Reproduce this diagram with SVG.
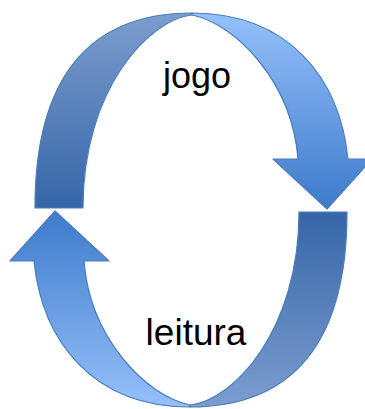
<svg xmlns="http://www.w3.org/2000/svg" width="365" height="409" viewBox="0 0 365 409">
  <defs>
    <linearGradient id="gBack" x1="0" y1="0" x2="0" y2="1">
      <stop offset="0" stop-color="#7d9dcf"/>
      <stop offset="1" stop-color="#3566a7"/>
    </linearGradient>
    <linearGradient id="gFront" x1="0" y1="0" x2="0" y2="1">
      <stop offset="0" stop-color="#95c0fa"/>
      <stop offset="1" stop-color="#3d7bcc"/>
    </linearGradient>
    <style>
      .band { stroke: #4a7ebb; stroke-width: 1.2; stroke-linejoin: round; }
      .back { fill: url(#gBack); }
      .front { fill: url(#gFront); }
      .lbl { font-family: "Liberation Sans", Arial, sans-serif; fill: #000000; text-anchor: middle; }
    </style>
  </defs>
  <rect width="365" height="409" fill="#ffffff"/>
  <g id="connectors">
    <g id="arrow-top">
      <path class="band back" d="M35,208 C35,79 88,13 192,13 L192,15 C150,19 83,88 83,208 Z"/>
      <path class="band front" d="M192,13 C290,13 340,80 348,159 L372,159 L327,209 L273,159 L298,159 C292,82 236,24 192,15 Z"/>
    </g>
    <g id="arrow-bottom" transform="rotate(180 191 210)">
      <path class="band back" d="M35,208 C35,79 88,13 192,13 L192,15 C150,19 83,88 83,208 Z"/>
      <path class="band front" d="M192,13 C290,13 340,80 348,159 L372,159 L327,209 L273,159 L298,159 C292,82 236,24 192,15 Z"/>
    </g>
  </g>
  <g id="node-jogo">
    <text class="lbl" x="197" y="88" font-size="36">jogo</text>
  </g>
  <g id="node-leitura">
    <text class="lbl" x="196" y="345" font-size="37">leitura</text>
  </g>
</svg>
